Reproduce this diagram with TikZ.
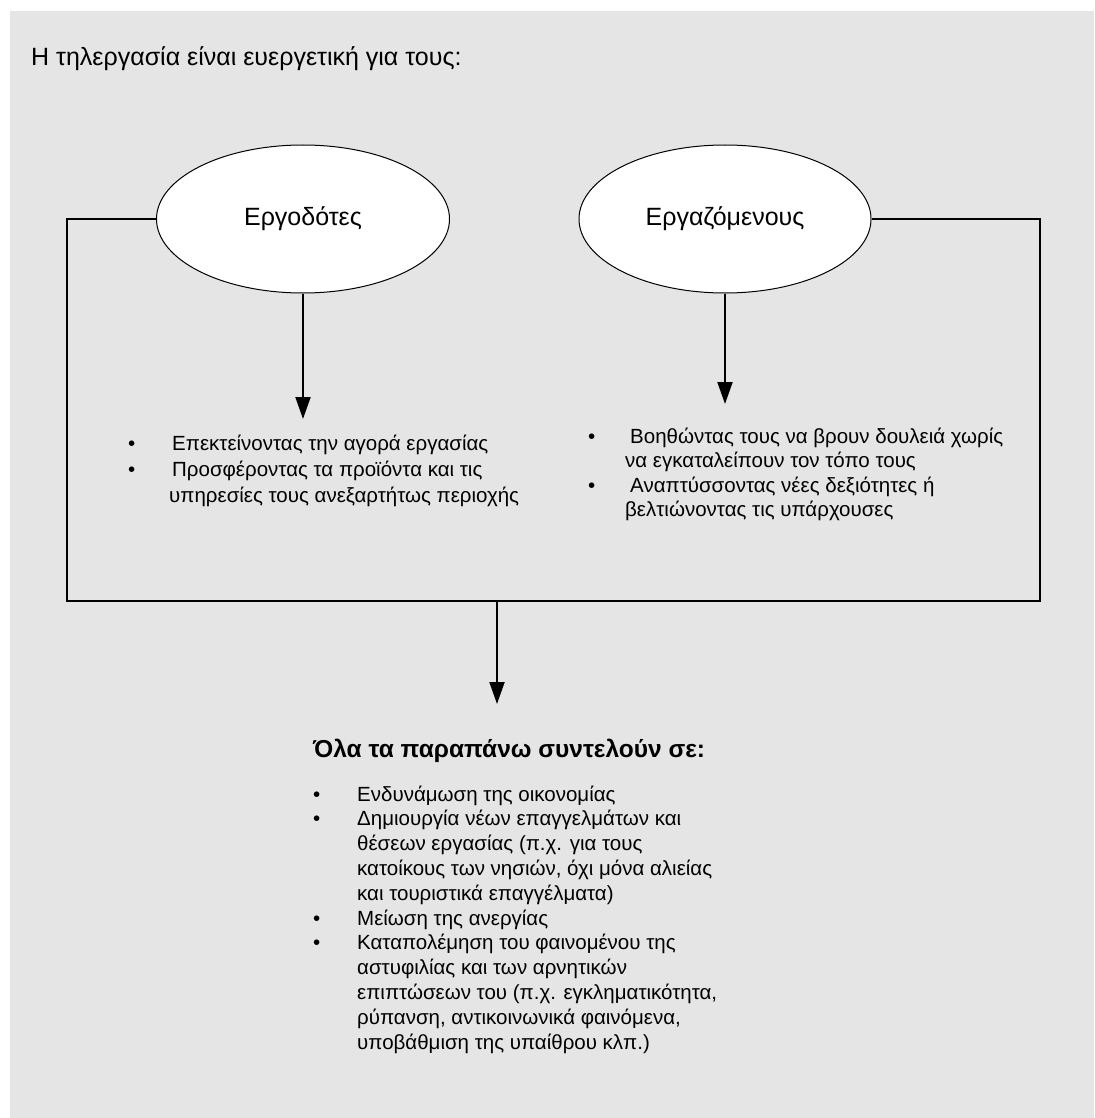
\documentclass[tikz,border=0pt]{standalone}
\usepackage{fontspec}
\setmainfont{Liberation Sans}
\usetikzlibrary{shapes.geometric,arrows.meta}
\definecolor{panel}{HTML}{E5E5E5}
\newcommand\bul[1]{\makebox[#1][l]{•}}
\tikzset{
  oval/.style={ellipse, draw, fill=white, line width=1pt, inner sep=0pt,
    font=\fontsize{25}{29}\selectfont},
  link/.style={line width=2pt, line join=miter},
  flow/.style={line width=2pt, -{Triangle[length=22pt,width=15pt]}},
  list/.style={anchor=base west, inner sep=0pt},
}
\begin{document}
\begin{tikzpicture}[x=1pt,y=-1pt]
\useasboundingbox (0,0) rectangle (1094,1118);
\fill[white] (0,0) rectangle (1094,1118);
\fill[panel] (10,11) rectangle (1094,1118);

% title line
\node[list, font=\fontsize{25}{29}\selectfont] (intro) at (31,66)
  {Η τηλεργασία είναι ευεργετική για τους:};

% the two groups
\node[oval, minimum width=293pt, minimum height=148pt] (emp) at (303,219) {Εργοδότες};
\node[oval, minimum width=292pt, minimum height=148pt] (wrk) at (725,219) {Εργαζόμενους};

% frame joining both groups
\coordinate (bl) at (67,601);
\coordinate (br) at (1040,601);
\coordinate (bm) at (497,601);
\draw[link] (emp.west) -| (bl) -- (br) |- (wrk.east);

% arrows
\coordinate (t1) at (303,419);
\coordinate (t2) at (725,404);
\coordinate (t3) at (497,704);
\draw[flow] (emp.south) -- (t1);
\draw[flow] (wrk.south) -- (t2);
\draw[flow] (bm) -- (t3);

% benefits for employers
\node[list, font=\fontsize{20.5}{26}\selectfont] (empl) at (128,450) {%
\begin{tabular}[t]{@{}l@{}l@{}}
\bul{44pt} & Επεκτείνοντας την αγορά εργασίας\\
\bul{44pt} & Προσφέροντας τα προϊόντα και τις\\
 & \hspace*{-3pt}υπηρεσίες τους ανεξαρτήτως περιοχής
\end{tabular}};

% benefits for employees
\node[list, font=\fontsize{20.5}{24.5}\selectfont] (wrkl) at (588,443) {%
\begin{tabular}[t]{@{}l@{}l@{}}
\bul{42pt} & Βοηθώντας τους να βρουν δουλειά χωρίς\\
 & \hspace*{-5pt}να εγκαταλείπουν τον τόπο τους\\
\bul{42pt} & Αναπτύσσοντας νέες δεξιότητες ή\\
 & \hspace*{-5pt}βελτιώνοντας τις υπάρχουσες
\end{tabular}};

% overall result
\node[list, font=\bfseries\fontsize{24.5}{28}\selectfont] (res) at (313,757)
  {Όλα τα παραπάνω συντελούν σε:};
\node[list, font=\fontsize{20.5}{24.8}\selectfont] (resl) at (313,801) {%
\begin{tabular}[t]{@{}l@{}l@{}}
\bul{44pt} & Ενδυνάμωση της οικονομίας\\
\bul{44pt} & Δημιουργία νέων επαγγελμάτων και\\
 & θέσεων εργασίας (π.χ. για τους\\
 & κατοίκους των νησιών, όχι μόνα αλιείας\\
 & και τουριστικά επαγγέλματα)\\
\bul{44pt} & Μείωση της ανεργίας\\
\bul{44pt} & Καταπολέμηση του φαινομένου της\\
 & αστυφιλίας και των αρνητικών\\
 & επιπτώσεων του (π.χ. εγκληματικότητα,\\
 & ρύπανση, αντικοινωνικά φαινόμενα,\\
 & υποβάθμιση της υπαίθρου κλπ.)
\end{tabular}};
\end{tikzpicture}
\end{document}
